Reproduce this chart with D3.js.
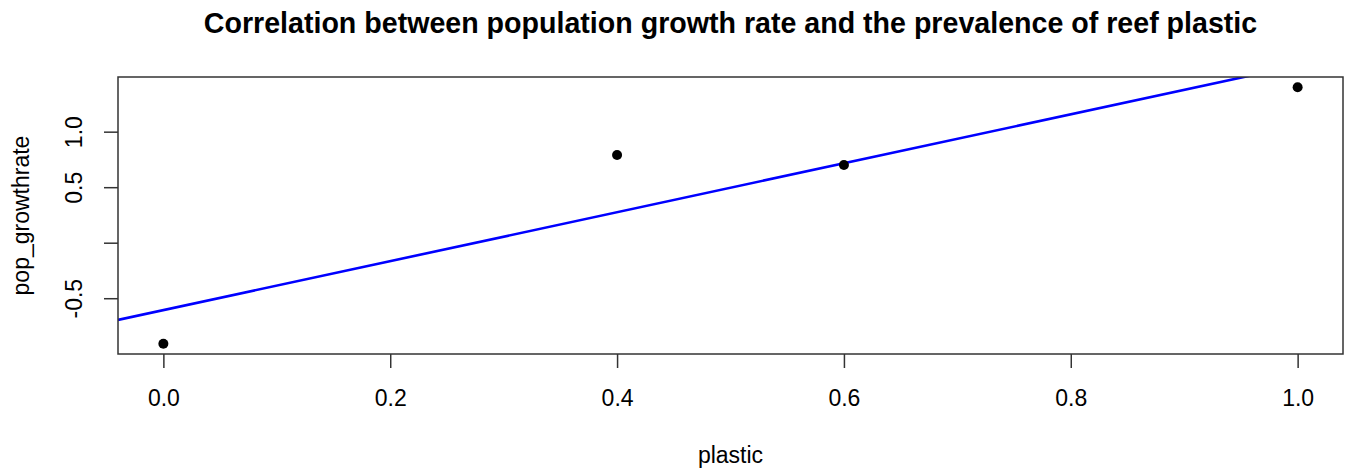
<!DOCTYPE html>
<html>
<head>
<meta charset="utf-8">
<script src="https://cdn.jsdelivr.net/npm/d3@7"></script>
<style>
  body { margin: 0; background: #fff; }
  text { font-family: "Liberation Sans", Arial, sans-serif; fill: #000; }
</style>
</head>
<body>
<svg id="chart" width="1346" height="468"></svg>
<script>
// datos
const plastic = [0.0, 0.4, 0.6, 1.0];
const popGrowth = [-0.91, 0.79, 0.70, 1.40];
const xTicks = [0.0, 0.2, 0.4, 0.6, 0.8, 1.0];
const yTicks = [-0.5, 0.0, 0.5, 1.0];
const yTickLabels = ["-0.5", "", "0.5", "1.0"];

const svg = d3.select("#chart");
const pLeft = 118, pRight = 1343, pTop = 77, pBottom = 354;

// rango con 4% extra como en R
function pad(ext) {
    const d = (ext[1] - ext[0]) * 0.04;
    return [ext[0] - d, ext[1] + d];
}

const x = d3.scaleLinear().domain(pad(d3.extent(plastic))).range([pLeft, pRight]);
const y = d3.scaleLinear().domain(pad(d3.extent(popGrowth))).range([pBottom, pTop]);

const points = plastic.map((p, i) => ({ x: p, y: popGrowth[i] }));

// recta de minimos cuadrados (abline(lm(...)))
const mx = d3.mean(points, d => d.x), my = d3.mean(points, d => d.y);
const slope = d3.sum(points, d => (d.x - mx) * (d.y - my)) / d3.sum(points, d => (d.x - mx) ** 2);
const intercept = my - slope * mx;

svg.append("clipPath").attr("id", "clip")
    .append("rect")
    .attr("x", pLeft).attr("y", pTop)
    .attr("width", pRight - pLeft).attr("height", pBottom - pTop);

const xd = x.domain();
svg.append("line")
    .attr("clip-path", "url(#clip)")
    .attr("x1", x(xd[0])).attr("y1", y(intercept + slope * xd[0]))
    .attr("x2", x(xd[1])).attr("y2", y(intercept + slope * xd[1]))
    .attr("stroke", "#0000ff")
    .attr("stroke-width", 2.6);

svg.selectAll(".point").data(points).enter()
    .append("circle")
    .attr("class", "point")
    .attr("cx", d => x(d.x))
    .attr("cy", d => y(d.y))
    .attr("r", 5)
    .attr("fill", "#000");

// caja
svg.append("rect")
    .attr("x", pLeft).attr("y", pTop)
    .attr("width", pRight - pLeft).attr("height", pBottom - pTop)
    .attr("fill", "none")
    .attr("stroke", "#333")
    .attr("stroke-width", 1.5);

// ejes
const xAxis = svg.append("g")
    .attr("transform", `translate(0,${pBottom})`)
    .call(d3.axisBottom(x).tickValues(xTicks).tickFormat(d3.format(".1f")).tickSize(14));
const yAxis = svg.append("g")
    .attr("transform", `translate(${pLeft},0)`)
    .call(d3.axisLeft(y).tickValues(yTicks).tickFormat((d, i) => yTickLabels[i]).tickSize(14));

[xAxis, yAxis].forEach(a => {
    a.select(".domain").remove();
    a.selectAll(".tick line").attr("stroke", "#333").attr("stroke-width", 1.5);
    a.selectAll(".tick text")
        .style("font-family", '"Liberation Sans", Arial, sans-serif')
        .style("font-size", "23px")
        .attr("fill", "#000");
});

xAxis.selectAll(".tick text").attr("dy", null).attr("y", 52);

yAxis.selectAll(".tick text")
    .attr("x", null).attr("dy", null)
    .attr("text-anchor", "middle")
    .attr("transform", "translate(-36,0) rotate(-90)");

// titulos
svg.append("text")
    .attr("x", (pLeft + pRight) / 2).attr("y", 33)
    .attr("text-anchor", "middle")
    .style("font-size", "28.6px")
    .style("font-weight", "bold")
    .text("Correlation between population growth rate and the prevalence of reef plastic");

svg.append("text")
    .attr("x", (pLeft + pRight) / 2).attr("y", 463)
    .attr("text-anchor", "middle")
    .style("font-size", "23px")
    .text("plastic");

svg.append("text")
    .attr("transform", `translate(29,${(pTop + pBottom) / 2}) rotate(-90)`)
    .attr("text-anchor", "middle")
    .style("font-size", "23px")
    .text("pop_growthrate");
</script>
</body>
</html>
